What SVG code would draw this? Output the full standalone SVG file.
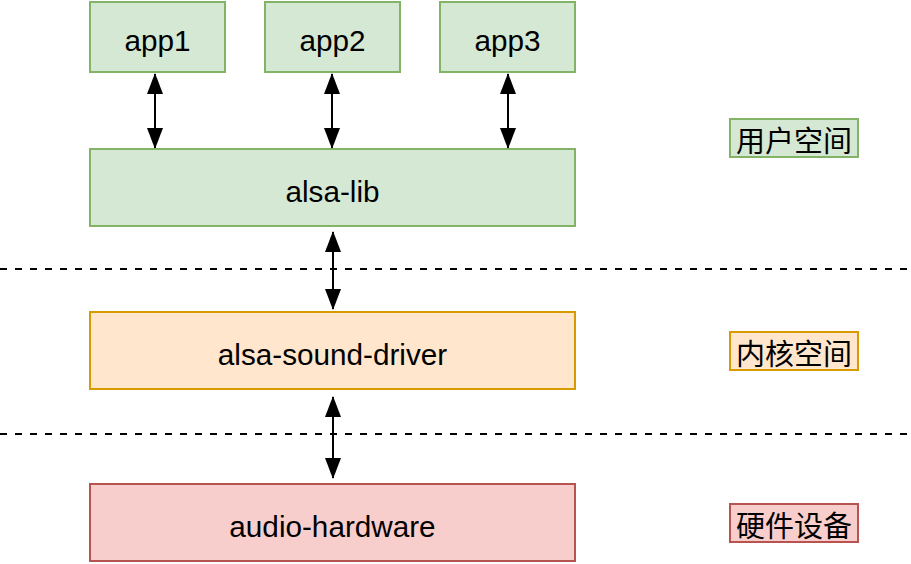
<svg xmlns="http://www.w3.org/2000/svg" width="911" height="564" viewBox="0 0 911 564">
<defs>
<marker id="ah" viewBox="0 0 21 16" refX="20" refY="8" markerWidth="21" markerHeight="16" markerUnits="userSpaceOnUse" orient="auto-start-reverse">
<path d="M0,0 L21,8 L0,16 Z" fill="#000"/>
</marker>
<style>
.g{fill:#d5e8d4;stroke:#82b366;stroke-width:2}
.o{fill:#ffe6cc;stroke:#d79b00;stroke-width:2}
.r{fill:#f8cecc;stroke:#b85450;stroke-width:2}
.t{font-family:"Liberation Sans",Arial,sans-serif;font-size:29.7px;fill:#000;text-anchor:middle;dominant-baseline:central}
.c{font-family:"Noto Sans CJK SC",sans-serif;font-size:29px;fill:#000;text-anchor:middle;dominant-baseline:central}
.a{stroke:#000;stroke-width:2;fill:none;marker-start:url(#ah);marker-end:url(#ah)}
.d{stroke:#000;stroke-width:2;stroke-dasharray:7 8;fill:none}
</style>
</defs>
<g id="connectors">
<path class="d" d="M0,269 H911"/>
<path class="d" d="M0,434 H911"/>
<path class="a" d="M155,74 V148"/>
<path class="a" d="M332,74 V148"/>
<path class="a" d="M508,74 V148"/>
<path class="a" d="M333,232 V309"/>
<path class="a" d="M333,397 V478"/>
</g>
<g id="app1"><rect class="g" x="90" y="2" width="135" height="70"/><text class="t" x="157.5" y="40">app1</text></g>
<g id="app2"><rect class="g" x="265" y="2" width="135" height="70"/><text class="t" x="332.5" y="40">app2</text></g>
<g id="app3"><rect class="g" x="440" y="2" width="135" height="70"/><text class="t" x="507.5" y="40">app3</text></g>
<g id="alsa-lib"><rect class="g" x="90" y="149" width="485" height="77"/><text class="t" x="332.5" y="191">alsa-lib</text></g>
<g id="alsa-sound-driver"><rect class="o" x="90" y="312" width="485" height="77"/><text class="t" x="332.5" y="354">alsa-sound-driver</text></g>
<g id="audio-hardware"><rect class="r" x="90" y="484" width="485" height="77"/><text class="t" x="332.5" y="526">audio-hardware</text></g>
<g id="user-space"><rect class="g" x="730" y="119" width="128" height="38"/><text class="c" x="794" y="139">用户空间</text></g>
<g id="kernel-space"><rect class="o" x="730" y="332" width="128" height="38"/><text class="c" x="794" y="352">内核空间</text></g>
<g id="hardware-device"><rect class="r" x="730" y="504" width="128" height="38"/><text class="c" x="794" y="524">硬件设备</text></g>
</svg>
